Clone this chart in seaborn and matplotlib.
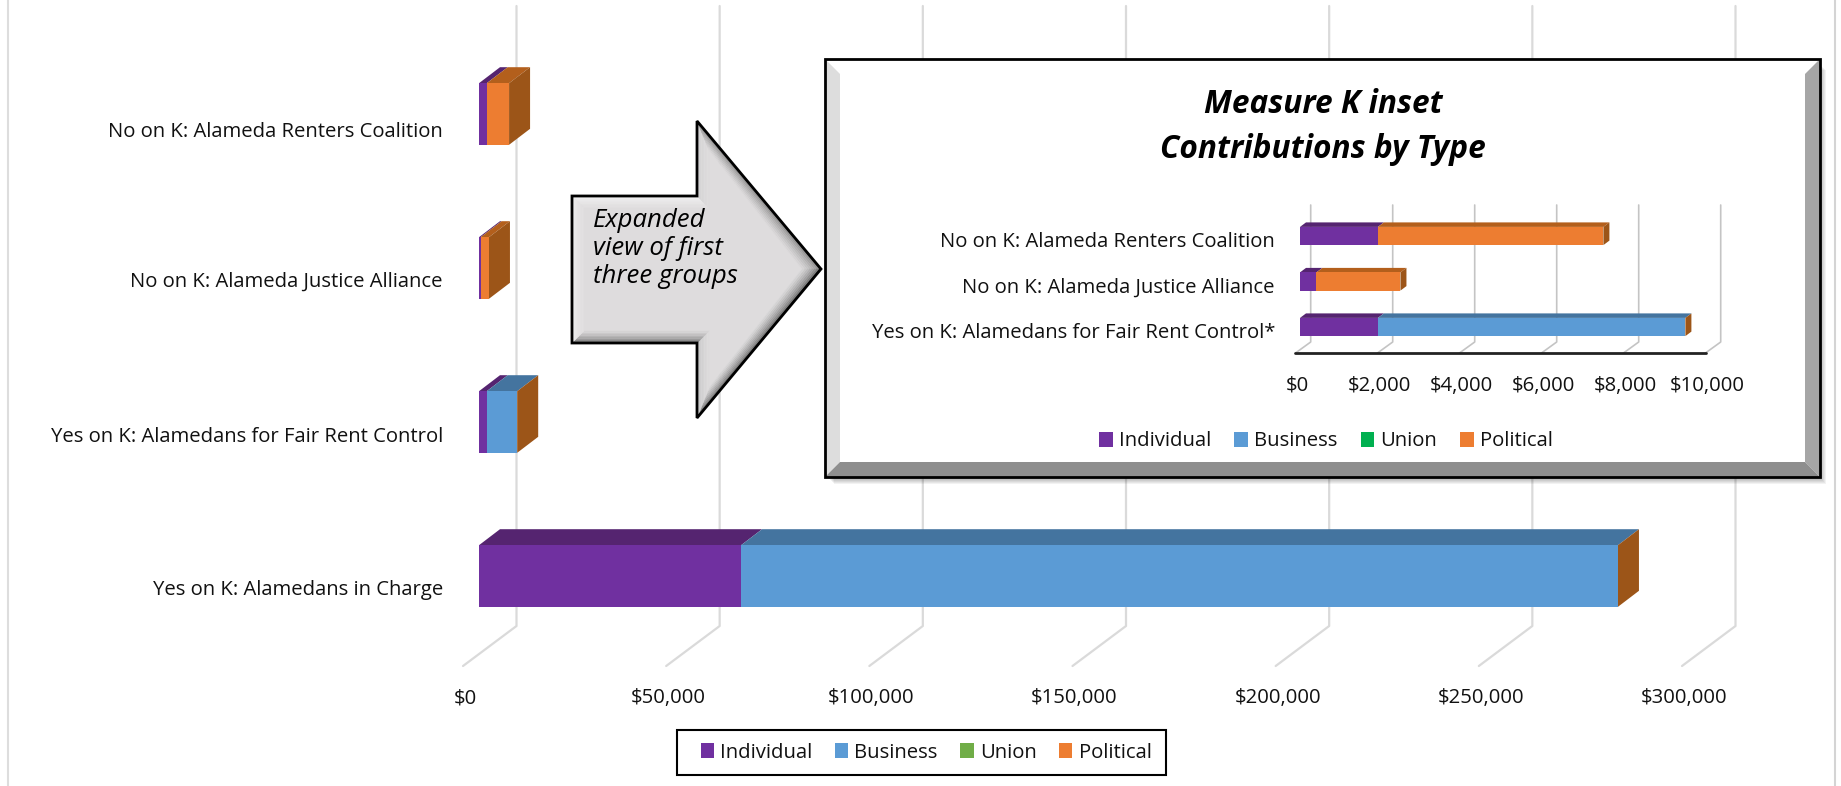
#!/usr/bin/env python
import numpy as np
import pandas as pd
import matplotlib
matplotlib.use("Agg")
import matplotlib.pyplot as plt
from matplotlib.patches import Polygon, Rectangle
from matplotlib.transforms import ScaledTranslation
import seaborn as sns

# Data
CATEGORIES = ["No on K: Alameda Renters Coalition", "No on K: Alameda Justice Alliance",
              "Yes on K: Alamedans for Fair Rent Control", "Yes on K: Alamedans in Charge"]
INDIVIDUAL = [1900, 400, 1900, 64500]
BUSINESS = [0, 0, 7500, 215800]
UNION = [0, 0, 0, 0]
POLITICAL = [5500, 2050, 0, 0]

INSET_CATEGORIES = ["No on K: Alameda Renters Coalition", "No on K: Alameda Justice Alliance",
                    "Yes on K: Alamedans for Fair Rent Control*"]
INSET_INDIVIDUAL = [1900, 400, 1900]
INSET_BUSINESS = [0, 0, 7500]
INSET_UNION = [0, 0, 0]
INSET_POLITICAL = [5500, 2050, 0]

SERIES_NAMES = ["Individual", "Business", "Union", "Political"]
MAIN_TICKS = [0, 50000, 100000, 150000, 200000, 250000, 300000]
INSET_TICKS = [0, 2000, 4000, 6000, 8000, 10000]

COLORS = ["#7030A0", "#5B9BD5", "#70AD47", "#ED7D31"]
INSET_COLORS = ["#7030A0", "#5B9BD5", "#00B050", "#ED7D31"]
TOP_COLORS = ["#552470", "#44749F", "#55833A", "#B35F1C"]
SIDE_COLOR = "#9C5518"
GRID_COLOR = "#DADADA"
W, H = 1841, 786


def px_axes(fig, left, top, right, bottom, zorder):
    '''axes placed by pixel edges of the figure'''
    ax = fig.add_axes([left / W, 1 - bottom / H, (right - left) / W, (bottom - top) / H], zorder=zorder)
    ax.patch.set_visible(False)
    return ax


def draw_bars(ax, cats, series, colors, bar_width, dx, dy):
    '''stack the series with seaborn, then add the 3D top and side faces'''
    df = pd.DataFrame(dict(zip(SERIES_NAMES, series)))
    df["cat"] = cats
    left = np.zeros(len(cats))
    for i, name in enumerate(SERIES_NAMES):
        n_before = len(ax.patches)
        sns.barplot(data=df, y="cat", x=name, orient="h", left=left, color=colors[i], saturation=1,
                    width=bar_width, errorbar=None, ax=ax, label=name, zorder=4, linewidth=0)
        for p in ax.patches[n_before:]:
            if p.get_width() > 0:
                x, y, w = p.get_x(), p.get_y(), p.get_width()
                ax.add_patch(Polygon([(x, y), (x + w, y), (x + w + dx, y - dy), (x + dx, y - dy)],
                                     color=TOP_COLORS[i], lw=0, zorder=3))
        left = left + df[name].values
    h = bar_width
    for row, total in enumerate(left):
        y = row - h / 2
        ax.add_patch(Polygon([(total, y), (total + dx, y - dy), (total + dx, y + h - dy), (total, y + h)],
                             color=SIDE_COLOR, lw=0, zorder=3))


def bevel(ov, outer, inner, edge_colors, fill, steps=8):
    '''fake bevel: bands between outer and inner outline, fading to the fill colour'''
    outer, inner = np.array(outer, float), np.array(inner, float)
    fill_rgb = np.array(matplotlib.colors.to_rgb(fill))
    ov.add_patch(Polygon(inner, color=fill, lw=0, zorder=2))
    n = len(outer)
    for i in range(n):
        c = np.array(matplotlib.colors.to_rgb(edge_colors[i]))
        j = (i + 1) % n
        for s in range(steps):
            t0, t1 = s / steps, (s + 1) / steps
            quad = [outer[i] + (inner[i] - outer[i]) * t0, outer[j] + (inner[j] - outer[j]) * t0,
                    outer[j] + (inner[j] - outer[j]) * t1, outer[i] + (inner[i] - outer[i]) * t1]
            col = c + (fill_rgb - c) * t0 ** 0.6
            ov.add_patch(Polygon(quad, facecolor=col, edgecolor=col, lw=0.3, zorder=2))


sns.set_theme(style="white")
plt.rcParams["font.family"] = ["Open Sans", "DejaVu Sans"]

fig = plt.figure(figsize=(W / 100, H / 100), dpi=100, facecolor="white")

# Main chart: $0 sits at x=479, one row is 154 px
ax = px_axes(fig, 479, 0, 1698, 670, 1)
px_x = 300000 / 1219
px_y = 1 / 154
draw_bars(ax, CATEGORIES, [INDIVIDUAL, BUSINESS, UNION, POLITICAL], COLORS, 0.4, 21 * px_x, 16 * px_y)
ax.set_xlim(0, 300000)
ax.set_ylim(556 * px_y, -114 * px_y)
for v in MAIN_TICKS:
    back = v + 37.5 * px_x
    front = v - 16 * px_x
    ax.plot([back, back, front], [-108 * px_y, 512 * px_y, 552 * px_y], color=GRID_COLOR, lw=1.6,
            zorder=1, clip_on=False)
ax.set_xticks(MAIN_TICKS, ["${:,}".format(v) for v in MAIN_TICKS])
ax.set_yticks(np.arange(4) + np.array([0.10, 0.075, 0.08, 0.075]), CATEGORIES)
ax.tick_params(axis="x", length=0, pad=13, labelsize=14.6, labelcolor="#111111")
ax.tick_params(axis="y", length=0, pad=26, labelsize=14.6, labelcolor="#111111")
ax.set_xlabel("")
ax.set_ylabel("")
shift = ScaledTranslation(-0.14, 0, fig.dpi_scale_trans)
for lab in ax.get_xticklabels():
    lab.set_transform(lab.get_transform() + shift)
sns.despine(ax=ax, left=True, bottom=True)
ax.legend(loc="center", bbox_to_anchor=(926 / W, 1 - 752.5 / H), bbox_transform=fig.transFigure, ncol=4,
          fontsize=14.6, frameon=False, handlelength=0.67, handleheight=0.8, handletextpad=0.3,
          columnspacing=1.1, labelcolor="#111111")

# Pixel overlay for the arrow and the inset frame
ov = px_axes(fig, 0, 0, W, H, 2)
ov.set_xlim(0, W)
ov.set_ylim(H, 0)
ov.axis("off")

# thin page border left and right
ov.plot([8.5, 8.5], [0, H], color="#DDDDDD", lw=1.5, zorder=0)
ov.plot([1835, 1835], [0, H], color="#D4D4D4", lw=1.5, zorder=0)
# box round the main legend
ov.add_patch(Rectangle((677, 730), 489, 45, fill=False, edgecolor="black", lw=1.5, zorder=3))

arrow_out = [(572, 196), (697, 196), (697, 121), (821, 269), (697, 418), (697, 343), (572, 343)]
arrow_in = [(584, 208), (709, 208), (709, 150), (802, 269), (709, 388), (709, 331), (584, 331)]
bevel(ov, arrow_out, arrow_in, ["#F7F7F7", "#D0D0D0", "#7A7A7A", "#555555", "#C4C4C4", "#666666", "#F2F2F2"],
      "#DEDCDD")
ov.add_patch(Polygon(arrow_out, fill=False, edgecolor="black", lw=2, zorder=3))
for txt, y in zip(["Expanded", "view of first", "three groups"], [227, 255, 283]):
    ov.text(593, y, txt, style="italic", fontsize=18.5, color="black", va="baseline", ha="left", zorder=4)

# inset frame with shadow and bevels
for k in range(1, 7):
    ov.add_patch(Rectangle((828 + k, 64 + k), 992, 414, color="black", alpha=0.05, lw=0, zorder=1))
fx0, fy0, fx1, fy1 = 825, 59, 1820, 477
bx0, by0, bx1, by1 = fx0 + 15, fy0 + 15, fx1 - 15, fy1 - 15
ov.add_patch(Rectangle((fx0, fy0), fx1 - fx0, fy1 - fy0, color="white", lw=0, zorder=2))
ov.add_patch(Polygon([(fx0, fy0), (bx0, by0), (bx0, by1), (fx0, fy1)], color="#DDDDDD", lw=0, zorder=2))
ov.add_patch(Polygon([(fx1, fy0), (bx1, by0), (bx1, by1), (fx1, fy1)], color="#A6A6A6", lw=0, zorder=2))
ov.add_patch(Polygon([(fx0, fy1), (bx0, by1), (bx1, by1), (fx1, fy1)], color="#8E8E8E", lw=0, zorder=2))
ov.add_patch(Rectangle((fx0, fy0), fx1 - fx0, fy1 - fy0, fill=False, edgecolor="black", lw=2, zorder=3))
ov.text(1323, 113, "Measure K inset", style="italic", weight="bold", fontsize=22.8, ha="center", va="baseline",
        color="black", zorder=4)
ov.text(1323, 158, "Contributions by Type", style="italic", weight="bold", fontsize=22.8, ha="center",
        va="baseline", color="black", zorder=4)

# Inset chart: one row is 45.5 px
ax2 = px_axes(fig, 1300, 190, 1710, 360, 3)
in_x = 10000 / 410
in_y = 1 / 45.5
draw_bars(ax2, INSET_CATEGORIES, [INSET_INDIVIDUAL, INSET_BUSINESS, INSET_UNION, INSET_POLITICAL], INSET_COLORS,
          0.4, 6 * in_x, 4.5 * in_y)
ax2.set_xlim(0, 10000)
ax2.set_ylim(124 * in_y, -46 * in_y)
for v in INSET_TICKS:
    back = v + 10.7 * in_x
    front = v - 4.5 * in_x
    ax2.plot([back, back, front], [-31 * in_y, 106 * in_y, 117 * in_y], color="#C4C4C4", lw=1.2, zorder=1,
             clip_on=False)
ax2.plot([-5 * in_x, 406 * in_x], [117 * in_y, 117 * in_y], color="#222222", lw=2, zorder=2, clip_on=False)
ax2.set_xticks(INSET_TICKS, ["${:,}".format(v) for v in INSET_TICKS])
ax2.set_yticks(np.arange(3) + 0.08, INSET_CATEGORIES)
ax2.tick_params(axis="x", length=0, pad=11.5, labelsize=14.6, labelcolor="#111111")
ax2.tick_params(axis="y", length=0, pad=18, labelsize=14.6, labelcolor="#111111")
ax2.set_xlabel("")
ax2.set_ylabel("")
shift2 = ScaledTranslation(-0.03, 0, fig.dpi_scale_trans)
for lab in ax2.get_xticklabels():
    lab.set_transform(lab.get_transform() + shift2)
sns.despine(ax=ax2, left=True, bottom=True)
ax2.legend(loc="center", bbox_to_anchor=(1326 / W, 1 - 441.5 / H), bbox_transform=fig.transFigure, ncol=4,
           fontsize=14.6, frameon=False, handlelength=0.67, handleheight=0.8, handletextpad=0.3,
           columnspacing=1.15, labelcolor="#111111")

fig.savefig("out.png", dpi=100)
